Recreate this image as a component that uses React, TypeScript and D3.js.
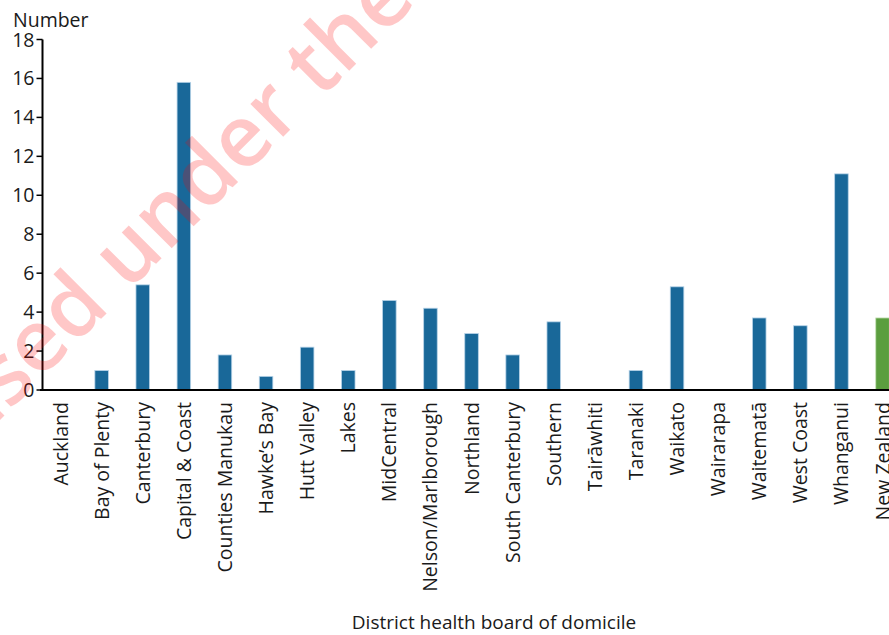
import React from "react";
import * as d3 from "d3";

const categories = [
  "Auckland", "Bay of Plenty", "Canterbury", "Capital & Coast", "Counties Manukau",
  "Hawke’s Bay", "Hutt Valley", "Lakes", "MidCentral", "Nelson/Marlborough",
  "Northland", "South Canterbury", "Southern", "Tairāwhiti", "Taranaki",
  "Waikato", "Wairarapa", "Waitematā", "West Coast", "Whanganui", "New Zealand",
];
const values = [
  0, 1.0, 5.4, 15.8, 1.8,
  0.7, 2.2, 1.0, 4.6, 4.2,
  2.9, 1.8, 3.5, 0, 1.0,
  5.3, 0, 3.7, 3.3, 11.1, 3.7,
];
const yTicks = [0, 2, 4, 6, 8, 10, 12, 14, 16, 18];
const yTitle = "Number";
const xTitle = "District health board of domicile";
const watermarkBefore = "Released";
const watermarkAfter = "under the Official Information Act";

const W = 889;
const H = 635;
const FONT = "'Open Sans', 'Noto Sans', sans-serif";

export default function App() {
  const step = 41.1;
  const x0 = 40;
  const x = d3
    .scaleBand<string>()
    .domain(categories)
    .range([x0, x0 + step * categories.length])
    .paddingInner(0.67)
    .paddingOuter(0.335);
  const y = d3.scaleLinear().domain([0, 18]).range([390, 39.5]);
  const axisX = 42.5;

  const wmX = 128;
  const wmY = 292;

  return (
    <svg
      width={W}
      height={H}
      style={{ position: "absolute", left: 0, top: 0, background: "#fff", fontFamily: FONT }}
    >
      {/* bars */}
      {categories.map((c, i) => (
        <rect
          key={c}
          x={x(c)}
          y={y(values[i])}
          width={x.bandwidth()}
          height={y(0) - y(values[i])}
          fill={c === "New Zealand" ? "#5b9e3f" : "#196899"}
          stroke={c === "New Zealand" ? "#c4e0b4" : "#b7d3e8"}
          strokeWidth={0.8}
        />
      ))}

      {/* y axis */}
      <line x1={axisX} x2={axisX} y1={y(18)} y2={y(0)} stroke="#000" strokeWidth={2} />
      {yTicks.map((t) => (
        <g key={t} transform={`translate(0,${y(t)})`}>
          <line x1={axisX - 6} x2={axisX} stroke="#000" strokeWidth={1.5} />
          <text x={axisX - 8} dy="0.36em" textAnchor="end" fontSize={19.5} fill="#1a1a1a">
            {t}
          </text>
        </g>
      ))}
      <text x={13} y={27} fontSize={19.5} fill="#1a1a1a">
        {yTitle}
      </text>

      {/* x axis */}
      <line x1={x0} x2={W} y1={y(0)} y2={y(0)} stroke="#000" strokeWidth={2.2} />
      {categories.map((c) => (
        <text
          key={c}
          transform={`translate(${(x(c) as number) + x.bandwidth() / 2},402) rotate(-90)`}
          dy="0.36em"
          textAnchor="end"
          fontSize={19.5}
          fill="#1a1a1a"
        >
          {c}
        </text>
      ))}
      <text x={494} y={629} textAnchor="middle" fontSize={19} fill="#1a1a1a">
        {xTitle}
      </text>

      {/* watermark */}
      <g
        transform={`translate(${wmX},${wmY}) rotate(-45)`}
        fill="rgba(255,0,0,0.22)"
        fontSize={86}
        fontWeight={600}
      >
        <text x={-23} textAnchor="end">{watermarkBefore}</text>
        <text x={0}>{watermarkAfter}</text>
      </g>
    </svg>
  );
}
